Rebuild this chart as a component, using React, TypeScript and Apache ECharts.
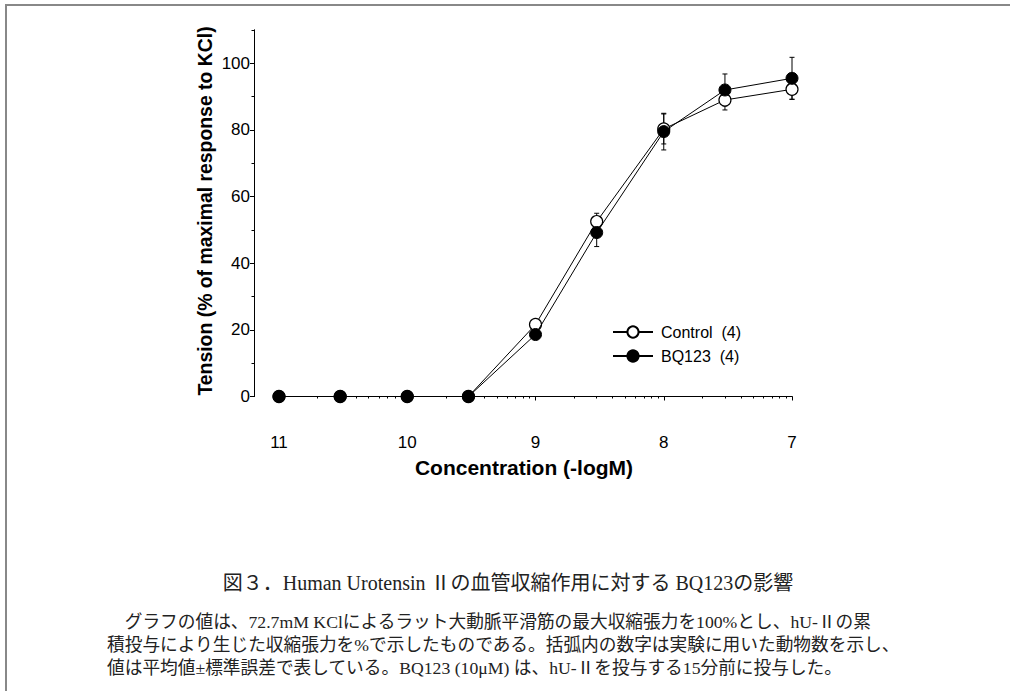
import React, { useEffect, useRef } from 'react';
import * as echarts from 'echarts';

// ---- data ----
const concentrationsM = [1e-11, 3e-11, 1e-10, 3e-10, 1e-9, 3e-9, 1e-8, 3e-8, 1e-7];
const controlMean = [0, 0, 0, 0, 21.6, 52.5, 80.3, 89.0, 92.2];
const controlSem = [0, 0, 0, 0, 1.2, 2.5, 4.5, 3.0, 3.0];
const bq123Mean = [0, 0, 0, 0, 18.6, 49.2, 79.5, 92.0, 95.5];
const bq123Sem = [0, 0, 0, 0, 1.0, 4.2, 5.5, 4.8, 6.3];
const seriesNames = ['Control  (4)', 'BQ123  (4)'];
const xTickLabels = [11, 10, 9, 8, 7];
const yTickLabels = [0, 20, 40, 60, 80, 100];
const yMinorTicks = [10, 30, 50, 70, 90, 110];
const xTitle = 'Concentration (-logM)';
const yTitle = 'Tension (% of maximal response to KCl)';
const captionTitle = '図３．Human Urotensin Ⅱの血管収縮作用に対する BQ123の影響';
const captionLines = [
  '　グラフの値は、72.7mM KClによるラット大動脈平滑筋の最大収縮張力を100%とし、hU-Ⅱの累',
  '積投与により生じた収縮張力を%で示したものである。括弧内の数字は実験に用いた動物数を示し、',
  '値は平均値±標準誤差で表している。BQ123 (10μM) は、hU-Ⅱを投与する15分前に投与した。',
];

const negLog = (c: number) => -Math.log10(c);
const xMinorTicks: number[] = [];
[11, 10, 9, 8].forEach((d) => {
  for (let k = 2; k <= 9; k++) xMinorTicks.push(d - Math.log10(k));
});

const SANS = '"Liberation Sans", Arial, sans-serif';
const SERIF = '"Liberation Serif", "Noto Sans CJK JP", serif';

export default function App() {
  const ref = useRef<HTMLDivElement>(null);
  useEffect(() => {
    if (!ref.current) return;
    const chart = echarts.init(ref.current, undefined, { renderer: 'svg' });
    const ctrl = concentrationsM.map((c, i) => [negLog(c), controlMean[i]]);
    const bq = concentrationsM.map((c, i) => [negLog(c), bq123Mean[i]]);
    const errData: number[][] = [];
    concentrationsM.forEach((c, i) => {
      if (controlSem[i] > 0) errData.push([negLog(c), controlMean[i] - controlSem[i], controlMean[i] + controlSem[i]]);
      if (bq123Sem[i] > 0) errData.push([negLog(c), bq123Mean[i] - bq123Sem[i], bq123Mean[i] + bq123Sem[i]]);
    });

    const axisLine = { show: true, lineStyle: { color: '#000', width: 1 } };
    const option: any = {
      animation: false,
      backgroundColor: '#fff',
      grid: { left: 279, right: 218, top: 30, bottom: 294.5, containLabel: false, outerBoundsMode: 'none' },
      xAxis: [
        {
          type: 'value', min: 7, max: 11, inverse: true, offset: 25,
          axisLine, splitLine: { show: false },
          axisTick: { show: true, length: 4, customValues: xTickLabels, lineStyle: { color: '#000' } },
          axisLabel: { show: true, customValues: xTickLabels, margin: 12, fontSize: 17, fontFamily: SANS, color: '#000' },
        },
        {
          type: 'value', min: 7, max: 11, inverse: true, offset: 25, position: 'bottom',
          axisLine, splitLine: { show: false },
          axisTick: { show: true, length: 2, customValues: xMinorTicks, lineStyle: { color: '#000' } },
          axisLabel: { show: false },
        },
      ],
      yAxis: [
        {
          type: 'value', min: 0, max: 110, offset: 25,
          axisLine, splitLine: { show: false },
          axisTick: { show: true, length: 4, customValues: yTickLabels, lineStyle: { color: '#000' } },
          axisLabel: { show: true, customValues: yTickLabels, margin: 4, fontSize: 17, fontFamily: SANS, color: '#000' },
        },
        {
          type: 'value', min: 0, max: 110, offset: 25, position: 'left',
          axisLine, splitLine: { show: false },
          axisTick: { show: true, length: 2.5, customValues: yMinorTicks, lineStyle: { color: '#000' } },
          axisLabel: { show: false },
        },
      ],
      legend: {
        orient: 'vertical', left: 612, top: 324, padding: 0, itemWidth: 40, itemHeight: 14, itemGap: 8,
        data: seriesNames,
        textStyle: { fontSize: 16, fontFamily: SANS, color: '#000', padding: [0, 0, 0, 3] },
      },
      series: [
        {
          type: 'custom', name: 'err', xAxisIndex: 0, yAxisIndex: 0, z: 1,
          data: errData,
          renderItem: (params: any, api: any) => {
            const x = api.value(0);
            const lo = api.coord([x, api.value(1)]);
            const hi = api.coord([x, api.value(2)]);
            const w = 2.5;
            const st = { stroke: '#000', lineWidth: 1 };
            return {
              type: 'group',
              children: [
                { type: 'line', shape: { x1: lo[0], y1: lo[1], x2: hi[0], y2: hi[1] }, style: st },
                { type: 'line', shape: { x1: hi[0] - w, y1: hi[1], x2: hi[0] + w, y2: hi[1] }, style: st },
                { type: 'line', shape: { x1: lo[0] - w, y1: lo[1], x2: lo[0] + w, y2: lo[1] }, style: st },
              ],
            };
          },
        },
        {
          type: 'line', name: seriesNames[0], data: ctrl, z: 2,
          symbol: 'circle', symbolSize: 12,
          lineStyle: { color: '#000', width: 1 },
          itemStyle: { color: '#fff', borderColor: '#000', borderWidth: 1.2 },
        },
        {
          type: 'line', name: seriesNames[1], data: bq, z: 3,
          symbol: 'circle', symbolSize: 12,
          lineStyle: { color: '#000', width: 1 },
          itemStyle: { color: '#000', borderColor: '#000', borderWidth: 1 },
        },
      ],
      graphic: [
        { type: 'line', shape: { x1: 5, y1: 5, x2: 1010, y2: 5 }, style: { stroke: '#888', lineWidth: 2 } },
        { type: 'line', shape: { x1: 6, y1: 5, x2: 6, y2: 691 }, style: { stroke: '#888', lineWidth: 2 } },
        {
          type: 'text', x: 524, y: 467,
          style: { text: xTitle, fontSize: 21, fontWeight: 'bold', fontFamily: SANS, fill: '#000', align: 'center', verticalAlign: 'middle' },
        },
        {
          type: 'text', x: 205, y: 211, rotation: Math.PI / 2,
          style: { text: yTitle, fontSize: 19.4, fontWeight: 'bold', fontFamily: SANS, fill: '#000', align: 'center', verticalAlign: 'middle' },
        },
        {
          type: 'text', x: 508, y: 583,
          style: { text: captionTitle, fontSize: 20, fontFamily: SERIF, fill: '#222', align: 'center', verticalAlign: 'middle' },
        },
        ...captionLines.map((t, i) => ({
          type: 'text', x: 107, y: 622 + i * 23,
          style: { text: t, fontSize: 17.7, fontFamily: SERIF, fill: '#222', align: 'left', verticalAlign: 'middle' },
        })),
      ],
    };
    chart.setOption(option);
    return () => chart.dispose();
  }, []);
  return <div ref={ref} style={{ position: 'absolute', left: 0, top: 0, width: 1010, height: 691 }} />;
}
